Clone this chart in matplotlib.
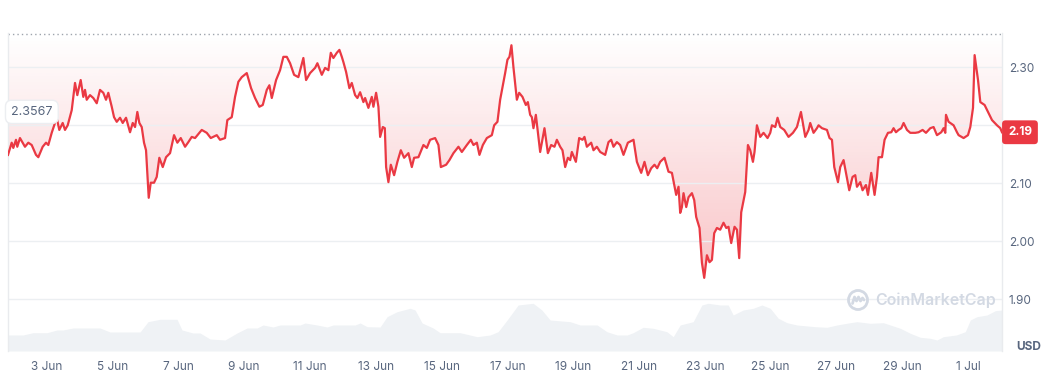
import numpy as np
import pandas as pd
import matplotlib
matplotlib.use("Agg")
import matplotlib.pyplot as plt
import matplotlib.dates as mdates
import matplotlib.transforms as mtransforms
from matplotlib.patches import Circle

plt.rcParams["font.family"] = ["Inter", "DejaVu Sans"]

START = pd.Timestamp("2024-06-01")
REF_PRICE = 2.3567

# days after 1 Jun 00:00
price_days = [
    0.824, 0.936, 0.985, 1.067, 1.106, 1.188, 1.271, 1.340, 1.441, 1.544,
    1.675, 1.745, 1.796, 1.878, 1.979, 2.049, 2.152, 2.252, 2.283, 2.383,
    2.486, 2.556, 2.638, 2.760, 2.809, 2.860, 2.930, 3.033, 3.112, 3.164,
    3.216, 3.316, 3.416, 3.520, 3.620, 3.720, 3.802, 3.872, 3.976, 4.046,
    4.128, 4.228, 4.310, 4.410, 4.532, 4.614, 4.684, 4.754, 4.815, 4.887,
    4.957, 5.018, 5.100, 5.161, 5.261, 5.343, 5.422, 5.526, 5.626, 5.748,
    5.869, 5.970, 6.073, 6.204, 6.304, 6.407, 6.508, 6.711, 6.863, 6.985,
    7.167, 7.267, 7.419, 7.489, 7.623, 7.723, 7.824, 7.927, 8.079, 8.210,
    8.331, 8.462, 8.565, 8.687, 8.766, 8.839, 8.970, 9.091, 9.191, 9.295,
    9.395, 9.517, 9.647, 9.799, 9.881, 10.003, 10.155, 10.225, 10.359, 10.459,
    10.559, 10.632, 10.711, 10.815, 10.894, 10.967,
    11.015, 11.097, 11.197, 11.270, 11.371, 11.441, 11.523, 11.623, 11.675, 11.775,
    11.878, 11.927, 12.009, 12.079, 12.131, 12.213, 12.274, 12.313, 12.383, 12.456,
    12.556, 12.656, 12.760, 12.860, 12.991, 13.094, 13.164, 13.295, 13.447, 13.550,
    13.650, 13.802, 13.903, 13.976, 14.137, 14.237, 14.359, 14.511, 14.614, 14.766,
    14.887, 14.967, 15.070, 15.149, 15.252, 15.374, 15.526, 15.596, 15.696, 15.778,
    15.930, 16.000, 16.061, 16.121, 16.182, 16.286,
    16.356, 16.456, 16.559, 16.620, 16.690, 16.741, 16.790, 16.863, 16.994, 17.125,
    17.228, 17.328, 17.429, 17.501, 17.602, 17.672, 17.754, 17.836, 17.906, 17.957,
    18.079, 18.179, 18.280, 18.340, 18.413, 18.544, 18.614, 18.717, 18.818, 18.970,
    19.070, 19.152, 19.222, 19.325, 19.425, 19.526, 19.659, 19.830, 19.933, 20.064,
    20.164, 20.267, 20.368, 20.468, 20.550, 20.641, 20.772, 20.893, 20.997,
    21.127, 21.198, 21.249, 21.301, 21.350, 21.432, 21.502, 21.605, 21.675, 21.735,
    21.836, 21.909, 21.979, 22.061, 22.140, 22.213, 22.282, 22.365, 22.465, 22.565,
    22.648, 22.717, 22.799, 22.900, 22.973, 23.042, 23.103, 23.225, 23.307, 23.377,
    23.459, 23.507, 23.580, 23.681, 23.781, 23.903, 23.985, 24.036, 24.137, 24.207,
    24.289, 24.410, 24.541, 24.675, 24.796, 24.918, 25.049, 25.149, 25.200, 25.301,
    25.404, 25.453, 25.556, 25.708, 25.787, 25.860, 25.930,
    26.043, 26.112, 26.213, 26.286, 26.386, 26.486, 26.568, 26.620, 26.720, 26.790,
    26.893, 26.954, 27.054, 27.155, 27.228, 27.276, 27.380, 27.459, 27.562, 27.663,
    27.732, 27.805, 27.884, 27.967, 28.037, 28.140, 28.240, 28.392, 28.492, 28.614,
    28.717, 28.848, 28.948, 29.051, 29.182, 29.252, 29.304, 29.325, 29.404, 29.556,
    29.659, 29.708, 29.860, 29.993, 30.064, 30.146, 30.195, 30.298, 30.368, 30.498,
    30.601, 30.723, 30.875, 30.975, 31.027,
]
price_usd = [
    2.149, 2.170, 2.161, 2.175, 2.163, 2.178, 2.170, 2.163, 2.170, 2.166,
    2.149, 2.145, 2.152, 2.163, 2.170, 2.166, 2.187, 2.204, 2.218, 2.192,
    2.204, 2.192, 2.200, 2.226, 2.249, 2.273, 2.252, 2.278, 2.249, 2.261,
    2.244, 2.252, 2.247, 2.238, 2.261, 2.256, 2.244, 2.256, 2.232, 2.214,
    2.206, 2.213, 2.204, 2.213, 2.188, 2.204, 2.197, 2.223, 2.204, 2.197,
    2.170, 2.157, 2.075, 2.101, 2.101, 2.111, 2.144, 2.128, 2.145, 2.152,
    2.183, 2.170, 2.178, 2.163, 2.171, 2.180, 2.178, 2.192, 2.187, 2.178,
    2.183, 2.175, 2.178, 2.209, 2.214, 2.249, 2.275, 2.283, 2.290, 2.264,
    2.247, 2.232, 2.235, 2.261, 2.269, 2.247, 2.278, 2.295, 2.318, 2.318,
    2.307, 2.287, 2.283, 2.316, 2.278, 2.290, 2.299, 2.307, 2.287, 2.299,
    2.295, 2.325, 2.316, 2.325, 2.330, 2.318,
    2.309, 2.292, 2.264, 2.273, 2.252, 2.247, 2.257, 2.240, 2.247, 2.230,
    2.249, 2.232, 2.256, 2.232, 2.180, 2.197, 2.195, 2.128, 2.102, 2.132,
    2.114, 2.137, 2.157, 2.144, 2.152, 2.128, 2.144, 2.145, 2.166, 2.161,
    2.175, 2.178, 2.166, 2.128, 2.132, 2.140, 2.152, 2.163, 2.154, 2.166,
    2.175, 2.166, 2.170, 2.149, 2.166, 2.178, 2.183, 2.200, 2.206, 2.244,
    2.290, 2.313, 2.318, 2.338, 2.300, 2.244,
    2.256, 2.249, 2.235, 2.240, 2.218, 2.214, 2.195, 2.218, 2.154, 2.195,
    2.152, 2.166, 2.163, 2.175, 2.163, 2.157, 2.128, 2.144, 2.140, 2.154,
    2.137, 2.178, 2.175, 2.180, 2.163, 2.170, 2.157, 2.163, 2.154, 2.149,
    2.171, 2.175, 2.163, 2.171, 2.166, 2.149, 2.170, 2.175, 2.137, 2.118,
    2.137, 2.114, 2.126, 2.132, 2.126, 2.137, 2.144, 2.120, 2.118,
    2.080, 2.094, 2.049, 2.059, 2.083, 2.059, 2.076, 2.083, 2.071, 2.042,
    2.023, 1.963, 1.937, 1.976, 1.964, 1.968, 2.014, 2.023, 2.020, 2.032,
    2.023, 2.025, 1.997, 2.025, 2.020, 1.971, 2.050, 2.085, 2.166, 2.157,
    2.137, 2.154, 2.200, 2.180, 2.187, 2.178, 2.187, 2.200, 2.197, 2.213,
    2.197, 2.192, 2.180, 2.187, 2.197, 2.223, 2.180, 2.192, 2.204, 2.187,
    2.195, 2.200, 2.195, 2.192, 2.178, 2.175, 2.128,
    2.102, 2.128, 2.140, 2.118, 2.088, 2.111, 2.114, 2.094, 2.102, 2.088,
    2.097, 2.080, 2.118, 2.080, 2.111, 2.145, 2.145, 2.175, 2.187, 2.188,
    2.195, 2.188, 2.192, 2.195, 2.204, 2.192, 2.187, 2.187, 2.188, 2.192,
    2.187, 2.195, 2.197, 2.183, 2.188, 2.195, 2.187, 2.218, 2.206, 2.200,
    2.188, 2.183, 2.178, 2.183, 2.197, 2.230, 2.321, 2.278, 2.240, 2.235,
    2.223, 2.209, 2.200, 2.195, 2.188,
]

# volume profile (relative units)
vol_days = [
    0.824, 1.280, 1.584, 2.009, 2.313, 2.495, 2.799, 3.620, 3.924, 4.836,
    5.079, 5.444, 5.960, 6.112, 6.447, 6.660, 6.963, 7.419, 7.784, 8.088,
    8.392, 8.574, 8.878, 9.091, 9.699, 9.851, 10.216, 10.520, 10.702, 11.371,
    11.523, 11.736, 12.131, 12.343, 12.647, 13.043, 13.194, 13.407, 13.742, 13.954,
    14.562, 15.079, 15.474, 15.717, 15.991, 16.325,
    16.781, 17.045, 17.298, 17.906, 18.210, 18.726, 19.021, 19.334, 19.638, 19.821,
    20.124, 20.429, 20.845, 21.037, 21.249, 21.644, 21.909, 22.100, 22.465, 22.708,
    22.860, 23.164, 23.468, 23.732, 23.985, 24.228, 24.493, 24.796, 25.352, 25.708,
    26.012, 26.416, 26.620, 27.024, 27.420, 27.632, 27.936, 28.240, 28.544, 28.848,
    29.051, 29.243, 29.638, 29.912, 30.064, 30.267, 30.571, 30.824, 31.027,
]
vol_level = [
    16, 16, 18.3, 18.3, 21, 21, 23, 23, 19, 19,
    29.3, 31.7, 31.7, 21, 18, 18, 12, 11, 18, 23,
    23, 26, 24, 26, 26, 28, 26, 24, 26, 26,
    28, 24.3, 24, 34.3, 39.3, 42.7, 41, 28, 23, 18.3,
    18.3, 14.3, 16, 19.3, 31, 46,
    47.7, 41, 31, 29.3, 26, 26, 19.3, 16, 16, 18.3,
    23.7, 22.7, 19.3, 14.3, 26, 29.3, 46, 47.7, 46, 46,
    36, 41, 42.7, 46, 42.7, 32.7, 28.3, 26, 24.3, 23.7,
    26, 28.3, 29.3, 27.7, 28.3, 26, 22.7, 17.7, 13.7, 12.7,
    11, 14.3, 16, 19.3, 31, 34.3, 36, 40.3, 41,
]

y_ticks = [1.90, 2.00, 2.10, 2.20, 2.30]
x_ticks = pd.date_range("2024-06-03", "2024-07-01", freq="2D")

RED = "#ea3943"
GREY = "#58667e"

t = START + pd.to_timedelta(price_days, unit="D")
tv = START + pd.to_timedelta(vol_days, unit="D")
prices = np.array(price_usd)

W, H = 1048, 381
fig = plt.figure(figsize=(W / 100, H / 100), dpi=100)
rect = [8 / W, 1 - 351 / H, (1002 - 8) / W, (351 - 33) / H]

# volume underneath, same time range as the price panel
axv = fig.add_axes(rect)
axv.fill_between(tv, vol_level, 0, color="#eff2f5", lw=0)
axv.set_xlim(t[0], t[-1])
axv.set_ylim(0, 318)
axv.axis("off")

ax = fig.add_axes(rect)
ax.set_facecolor("none")

poly = ax.fill_between(t, prices, REF_PRICE, color="none", lw=0)
x0, x1 = mdates.date2num([t[0], t[-1]])
lo = prices.min()
grad = np.zeros((256, 1, 4))
grad[..., 0:3] = matplotlib.colors.to_rgb(RED)
grad[:, 0, 3] = np.linspace(0.30, 0.0, 256)
img = ax.imshow(grad, extent=[x0, x1, lo, REF_PRICE], origin="lower",
                aspect="auto", zorder=1, interpolation="bilinear")
img.set_clip_path(poly.get_paths()[0], transform=ax.transData)

ax.plot(t, prices, color=RED, lw=1.6, zorder=3, solid_joinstyle="round")
ax.axhline(REF_PRICE, color="#9ea4ad", lw=1, ls=(0, (1, 2.2)), zorder=2)

ax.set_xlim(t[0], t[-1])
ax.set_ylim(1.8109, 2.3591)

# 2.20 sits under the current-price badge, so its label is left blank
ax.set_yticks(y_ticks)
ax.set_yticklabels(["" if abs(v - 2.20) < 1e-9 else f"{v:.2f}" for v in y_ticks])
ax.yaxis.tick_right()
ax.set_xticks(x_ticks)
ax.set_xticklabels([f"{d.day} {d:%b}" for d in x_ticks])
ax.tick_params(axis="y", length=0, pad=5, labelsize=8.5, labelcolor=GREY)
ax.tick_params(axis="x", length=0, pad=7, labelsize=8.5, labelcolor=GREY)
ax.grid(axis="y", color="#eceff2", lw=1, zorder=0)
ax.grid(axis="x", visible=False)
for side in ["top", "bottom"]:
    ax.spines[side].set_visible(False)
for side in ["left", "right"]:
    ax.spines[side].set_color("#e9ebee")
    ax.spines[side].set_linewidth(1)

# current price badge
trans = mtransforms.blended_transform_factory(ax.transAxes, ax.transData)
ax.text(1.006, prices[-1], f"{prices[-1]:.2f}", transform=trans, ha="left",
        va="center", color="white", fontsize=8.5, fontweight="bold", zorder=5,
        bbox=dict(boxstyle="round,pad=0.5,rounding_size=0.3", fc=RED, ec="none"),
        clip_on=False)

# reference price tag
ax.text(0.024, 0.752, f"{REF_PRICE:.4f}", transform=ax.transAxes, ha="center",
        va="center", color=GREY, fontsize=9, zorder=5,
        bbox=dict(boxstyle="round,pad=0.45,rounding_size=0.5", fc="white",
                  ec="#eceef1", lw=1))

ax.text(1.014, 0.012, "USD", transform=ax.transAxes, ha="left", va="center",
        color=GREY, fontsize=8.5, fontweight="bold", clip_on=False)

# watermark
ident = mtransforms.IdentityTransform()
fig.add_artist(Circle((858, 81), 9.5, transform=ident, fill=False,
                      ec="#d3d9e3", lw=2))
wx = np.array([-5.5, -3.5, -1.5, 0.5, 2.5, 4.5, 6])
wy = np.array([-3.5, 3, -1, 3, -1, 2, 0])
fig.add_artist(plt.Line2D(858 + wx, 81 + wy, transform=ident, color="#d3d9e3",
                          lw=2, solid_capstyle="round", solid_joinstyle="round"))
fig.text(875, 81, "CoinMarketCap", transform=ident, ha="left", va="center",
         color="#d3d9e3", fontsize=11.5, fontweight="semibold")

fig.savefig("out.png", dpi=100)
